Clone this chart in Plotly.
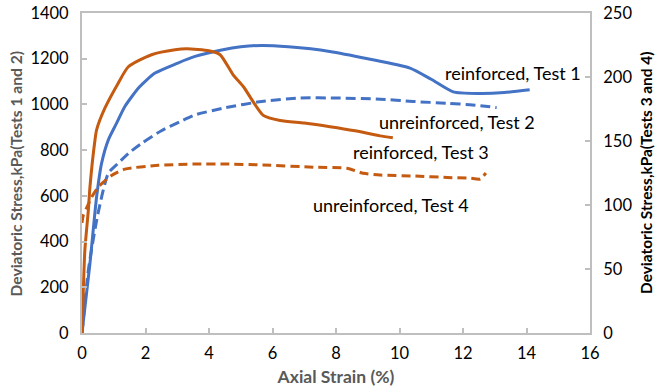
import plotly.graph_objects as go

# Axial strain (%) and deviatoric stress readings for each triaxial test
strain_t1 = [0, 0.25, 0.46, 0.62, 0.83, 1.09, 1.35, 1.8, 2.3, 3.0, 3.56, 4.4, 5.0, 5.66, 6.5, 7.8, 9.0, 10.33, 11.0, 11.69, 12.5, 13.3, 14.1]
stress_t1 = [0, 304, 596, 744, 845, 918, 991, 1075, 1137, 1180, 1210, 1238, 1252, 1258, 1252, 1232, 1200, 1159, 1110, 1055, 1048, 1052, 1064]

strain_t2 = [0, 0.2, 0.5, 0.83, 1.14, 1.5, 1.88, 2.5, 3.09, 3.56, 4.5, 5.66, 6.87, 8.0, 9.39, 10.43, 11.5, 12.3, 13.06]
stress_t2 = [0, 275, 520, 699, 743, 790, 830, 885, 925, 954, 985, 1013, 1028, 1028, 1023, 1013, 1005, 998, 986]

strain_t3 = [0, 0.09, 0.2, 0.25, 0.41, 0.46, 0.72, 1.14, 1.46, 2.19, 2.93, 3.3, 4.0, 4.35, 4.76, 5.08, 5.71, 6.24, 7.0, 7.81, 8.6, 9.39, 9.79]
stress_t3 = [0, 64.7, 96, 114, 151, 158.7, 175.6, 195.2, 208, 217.4, 221.3, 222, 220.5, 217.4, 201.7, 192.6, 170, 166, 164, 161.2, 158, 154, 152.6]

strain_t4 = [0, 0.04, 0.15, 0.3, 0.51, 0.93, 1.35, 2.4, 3.56, 4.5, 5.71, 7.29, 8.34, 8.86, 9.39, 10.5, 11.5, 12.2, 12.54, 12.72]
stress_t4 = [86, 92, 98, 106, 114, 123, 128, 131, 132, 132, 131.3, 129.5, 128.7, 124.8, 123.4, 122.6, 121.5, 121, 120.3, 125]

series_labels = ["reinforced, Test 1", "unreinforced, Test 2", "reinforced, Test 3", "unreinforced, Test 4"]
label_x = [13.57, 11.81, 10.68, 9.73]
label_y = [1138, 925, 793, 560]

x_ticks = [0, 2, 4, 6, 8, 10, 12, 14, 16]
left_ticks = [0, 200, 400, 600, 800, 1000, 1200, 1400]
right_ticks = [0, 50, 100, 150, 200, 250]

left_title = "Deviatoric Stress,kPa(Tests 1 and 2)"
right_title = "Deviatoric Stress,kPa(Tests 3 and 4)"

BLUE = "#4472C4"
ORANGE = "#C55A11"
GRID = "#BFBFBF"
FONT = "Lato"

fig = go.Figure()
line_common = dict(shape="spline", smoothing=0.6, width=3)

fig.add_trace(go.Scatter(x=strain_t1, y=stress_t1, mode="lines",
                         line=dict(color=BLUE, **line_common), yaxis="y"))
fig.add_trace(go.Scatter(x=strain_t2, y=stress_t2, mode="lines",
                         line=dict(color=BLUE, dash="10px,5px", **line_common), yaxis="y"))
fig.add_trace(go.Scatter(x=strain_t3, y=stress_t3, mode="lines",
                         line=dict(color=ORANGE, **line_common), yaxis="y2"))
fig.add_trace(go.Scatter(x=strain_t4, y=stress_t4, mode="lines",
                         line=dict(color=ORANGE, dash="9px,5px", **line_common), yaxis="y2"))

# In-plot series labels
for txt, lx, ly in zip(series_labels, label_x, label_y):
    fig.add_annotation(x=lx, y=ly, xref="x", yref="y", text=txt, showarrow=False,
                       font=dict(family=FONT, size=18, color="#000000"))

# Vertical axis titles
fig.add_annotation(x=-0.129, y=0.5, xref="paper", yref="paper", text="<b>" + left_title + "</b>",
                   textangle=-90, showarrow=False, xanchor="center", yanchor="middle",
                   font=dict(family=FONT, size=15.6, color="#595959"))
fig.add_annotation(x=1.11, y=0.5, xref="paper", yref="paper", text="<b>" + right_title + "</b>",
                   textangle=-90, showarrow=False, xanchor="center", yanchor="middle",
                   font=dict(family=FONT, size=15.4, color="#000000"))

fig.update_layout(
    width=657, height=391,
    margin=dict(l=82, r=67, t=13, b=58),
    paper_bgcolor="white", plot_bgcolor="white",
    showlegend=False,
    font=dict(family=FONT, size=16.5, color="#000000"),
    xaxis=dict(range=[0, 16], tickvals=x_ticks, showgrid=False, zeroline=False,
               showline=True, linecolor=GRID, linewidth=2, mirror=True, automargin=False,
               ticks="inside", ticklen=5, tickcolor=GRID, tickwidth=1.5, ticklabelstandoff=4,
               title=dict(text="<b>Axial Strain (%)</b>", font=dict(size=17.5, color="#595959"), standoff=9)),
    yaxis=dict(range=[0, 1400], tickvals=left_ticks, showgrid=False, zeroline=False,
               showline=True, linecolor=GRID, linewidth=2, automargin=False,
               ticks="inside", ticklen=5, tickcolor=GRID, tickwidth=1.5, ticklabelstandoff=8),
    yaxis2=dict(range=[0, 250], tickvals=right_ticks, overlaying="y", side="right",
                showgrid=False, zeroline=False, showline=True, linecolor=GRID, linewidth=2,
                automargin=False,
                ticks="inside", ticklen=5, tickcolor=GRID, tickwidth=1.5, ticklabelstandoff=8),
)

fig.write_html("out.html")
